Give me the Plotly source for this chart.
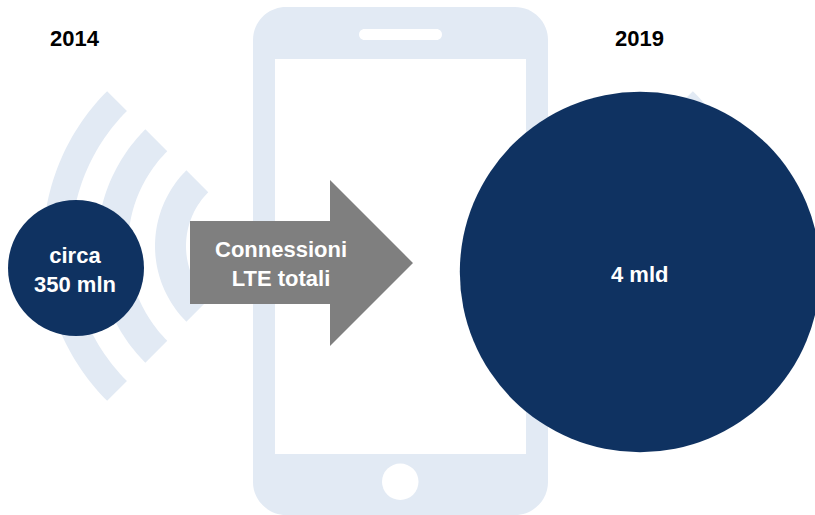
import numpy as np
import plotly.graph_objects as go

# Total LTE connections, in millions
years = ["2014", "2019"]
connections_mln = [350, 4000]
bubble_labels = ["circa<br>350 mln", "4 mld"]
arrow_label = "Connessioni<br>LTE totali"

NAVY = "#0F3261"
PALE = "#E2EAF4"
GREY = "#7F7F7F"
FONT = "Liberation Sans"

W, H = 815, 515


def rounded_rect(x0, y0, x1, y1, r):
    # Corners are cubic approximations of quarter circles
    k = r * 0.448
    return (
        f"M{x0+r},{y0} L{x1-r},{y0} C{x1-k},{y0} {x1},{y0+k} {x1},{y0+r} "
        f"L{x1},{y1-r} C{x1},{y1-k} {x1-k},{y1} {x1-r},{y1} "
        f"L{x0+r},{y1} C{x0+k},{y1} {x0},{y1-k} {x0},{y1-r} "
        f"L{x0},{y0+r} C{x0},{y0+k} {x0+k},{y0} {x0+r},{y0} Z"
    )


def signal_arc(cx, cy, r_in, r_out, direction):
    # Annular sector spanning 90 degrees, opening towards the phone
    t = np.radians(np.linspace(-45, 45, 60))
    xs = np.concatenate([cx + direction * r_out * np.cos(t), cx + direction * r_in * np.cos(t[::-1])])
    ys = np.concatenate([cy + r_out * np.sin(t), cy + r_in * np.sin(t[::-1])])
    pts = [f"{x:.2f},{y:.2f}" for x, y in zip(xs, ys)]
    return "M" + " L".join(pts) + " Z"


def filled(path, color):
    return dict(type="path", path=path, fillcolor=color, line_width=0, layer="below")


shapes = []

# Signal waves on both flanks of the handset
for cx, direction in [(262, -1), (538, 1)]:
    for r_in, r_out in [(76, 107), (134, 165), (191, 219)]:
        shapes.append(filled(signal_arc(cx, 246, r_in, r_out, direction), PALE))

# Handset: body, screen, speaker slot, home button
shapes.append(filled(rounded_rect(253, 7, 548, 515, 33), PALE))
shapes.append(filled("M275,59 L526,59 L526,454 L275,454 Z", "white"))
shapes.append(filled(rounded_rect(359, 29, 442, 40, 5.5), "white"))
shapes.append(dict(type="circle", x0=382, x1=418.5, y0=463.5, y1=500,
                   fillcolor="white", line_width=0, layer="below"))

# Growth arrow
shapes.append(filled("M190,221 L330,221 L330,180 L413,263 L330,346 L330,304 L190,304 Z", GREY))

# Bubble diameter follows a 0.4 power of the connection count
diameters = 13.06 * np.array(connections_mln, dtype=float) ** 0.4

fig = go.Figure(
    go.Scatter(
        x=[76, 640],
        y=[268, 272],
        mode="markers",
        marker=dict(size=diameters, sizemode="diameter", color=NAVY, line_width=0, opacity=1),
        cliponaxis=False,
        hoverinfo="skip",
    )
)


def label(x, y, text, size, color):
    fig.add_annotation(
        x=x, y=y, text=f"<b>{text}</b>", showarrow=False,
        font=dict(family=FONT, size=size, color=color), align="center",
    )


label(75, 38, years[0], 22, "black")
label(639, 38, years[1], 22, "black")
label(75, 270, bubble_labels[0], 22, "white")
label(639, 274, bubble_labels[1], 22, "white")
label(281, 264, arrow_label, 22, "white")

fig.update_layout(
    width=W,
    height=H,
    margin=dict(l=0, r=0, t=0, b=0),
    paper_bgcolor="white",
    plot_bgcolor="white",
    showlegend=False,
    hovermode=False,
    shapes=shapes,
    xaxis=dict(range=[0, W], visible=False, fixedrange=True),
    yaxis=dict(range=[H, 0], visible=False, fixedrange=True),
)

fig.write_html("out.html", config=dict(displayModeBar=False))
